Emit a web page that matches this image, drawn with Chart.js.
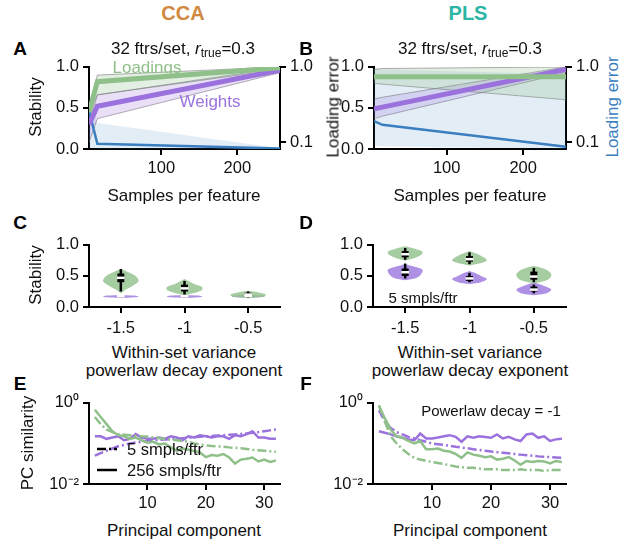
<!DOCTYPE html>
<html>
<head>
<meta charset="utf-8">
<script src="https://cdn.jsdelivr.net/npm/chart.js@4.4.1/dist/chart.umd.min.js"></script>
<style>
  html, body { margin: 0; padding: 0; background: #fff; }
  #fig { position: relative; width: 624px; height: 542px; overflow: hidden; font-family: "Liberation Sans", Arial, sans-serif; color: #111; }
  #fig canvas { position: absolute; }
  .t { position: absolute; white-space: nowrap; transform: translate(-50%, -50%); font-size: 17px; line-height: 1; }
  .rot { transform: translate(-50%, -50%) rotate(-90deg); }
  .big { font-weight: bold; font-size: 20px; }
  .let { font-weight: bold; font-size: 19px; color: #000; }
  sub { font-size: 12px; vertical-align: -3px; line-height: 0; }
</style>
</head>
<body>
<div id="fig"></div>
<script>
// ---- du lieu doc tu hinh ----
const samplesPerFeature = [5, 16, 256];

// A: CCA
const ccaLoadStab   = [0.45, 0.82, 0.99];
const ccaLoadStabHi = [0.52, 0.90, 1.00];
const ccaLoadStabLo = [0.30, 0.66, 0.97];
const ccaWgtStab    = [0.30, 0.52, 0.96];
const ccaWgtStabHi  = [0.45, 0.66, 0.99];
const ccaWgtStabLo  = [0.08, 0.37, 0.93];
const ccaLoadErr    = [0.26, 0.095, 0.082];
const ccaLoadErrHi  = [0.45, 0.18, 0.083];
const ccaLoadErrLo  = [0.085, 0.081, 0.081];

// B: PLS
const plsLoadStab   = [0.88, 0.88, 0.88];
const plsLoadStabHi = [0.97, 0.98, 1.00];
const plsLoadStabLo = [0.80, 0.79, 0.60];
const plsWgtStab    = [0.49, 0.51, 0.97];
const plsWgtStabHi  = [0.61, 0.63, 1.00];
const plsWgtStabLo  = [0.37, 0.40, 0.93];
const plsLoadErr    = [0.19, 0.17, 0.087];
const plsLoadErrHi  = [0.95, 0.93, 0.80];
const plsLoadErrLo  = [0.09, 0.088, 0.081];

// C, D: violins
const decayExponents = ['-1.5', '-1', '-0.5'];
// [whisker lo, q1, median, q3, whisker hi]
const ccaLoadBox = [[0.25, 0.40, 0.47, 0.54, 0.61], [0.20, 0.25, 0.30, 0.36, 0.42], [0.15, 0.16, 0.20, 0.23, 0.25]];
const ccaWgtBox  = [[0.16, 0.165, 0.175, 0.185, 0.19], [0.16, 0.165, 0.175, 0.185, 0.19], [0.16, 0.165, 0.175, 0.185, 0.19]];
const plsLoadBox = [[0.76, 0.80, 0.85, 0.90, 0.95], [0.69, 0.73, 0.77, 0.82, 0.88], [0.40, 0.44, 0.49, 0.57, 0.63]];
const plsWgtBox  = [[0.46, 0.50, 0.56, 0.62, 0.70], [0.40, 0.42, 0.46, 0.50, 0.55], [0.22, 0.25, 0.28, 0.33, 0.36]];
// violin outline: y knots and half widths
const ccaLoadVioY = [[0.22, 0.28, 0.35, 0.42, 0.50, 0.56, 0.61], [0.18, 0.22, 0.27, 0.32, 0.37, 0.42, 0.45], [0.14, 0.17, 0.20, 0.23, 0.26]];
const ccaLoadVioW = [[0, 0.08, 0.20, 0.28, 0.23, 0.12, 0], [0, 0.13, 0.27, 0.28, 0.15, 0.06, 0], [0, 0.25, 0.28, 0.18, 0]];
const ccaWgtVioY  = [[0.145, 0.155, 0.17, 0.185, 0.195], [0.145, 0.155, 0.17, 0.185, 0.195], [0.145, 0.16, 0.175, 0.19, 0.20]];
const ccaWgtVioW  = [[0, 0.22, 0.28, 0.22, 0], [0, 0.22, 0.28, 0.22, 0], [0, 0.22, 0.26, 0.17, 0]];
const plsLoadVioY = [[0.75, 0.79, 0.84, 0.89, 0.94, 0.98], [0.67, 0.70, 0.75, 0.80, 0.86, 0.90], [0.38, 0.43, 0.50, 0.56, 0.62, 0.66]];
const plsLoadVioW = [[0, 0.15, 0.25, 0.27, 0.15, 0], [0, 0.15, 0.27, 0.22, 0.10, 0], [0, 0.20, 0.27, 0.25, 0.15, 0]];
const plsWgtVioY  = [[0.43, 0.47, 0.53, 0.60, 0.65, 0.69], [0.37, 0.40, 0.45, 0.50, 0.55, 0.58], [0.19, 0.22, 0.28, 0.33, 0.37, 0.40]];
const plsWgtVioW  = [[0, 0.18, 0.25, 0.27, 0.15, 0], [0, 0.18, 0.27, 0.18, 0.08, 0], [0, 0.20, 0.27, 0.18, 0.08, 0]];

// E, F: PC similarity
const pcIndex = [1, 2, 3, 4, 5, 6, 7, 8, 9, 10, 11, 12, 13, 14, 15, 16, 17, 18, 19, 20, 21, 22, 23, 24, 25, 26, 27, 28, 29, 30, 31, 32];
const ccaLoad256 = [0.68, 0.45, 0.30, 0.20, 0.16, 0.15, 0.13, 0.14, 0.12, 0.105, 0.11, 0.095, 0.10, 0.08, 0.066, 0.075, 0.07, 0.065, 0.06, 0.046, 0.052, 0.05, 0.055, 0.045, 0.032, 0.04, 0.042, 0.045, 0.036, 0.04, 0.035, 0.038];
const ccaLoad5   = [0.45, 0.30, 0.22, 0.19, 0.17, 0.165, 0.16, 0.155, 0.15, 0.148, 0.14, 0.135, 0.13, 0.125, 0.12, 0.115, 0.11, 0.10, 0.095, 0.09, 0.087, 0.085, 0.083, 0.08, 0.078, 0.076, 0.073, 0.07, 0.068, 0.066, 0.064, 0.062];
const ccaWgt256  = [0.15, 0.15, 0.13, 0.14, 0.15, 0.12, 0.13, 0.17, 0.14, 0.13, 0.13, 0.14, 0.13, 0.15, 0.14, 0.12, 0.15, 0.14, 0.16, 0.15, 0.14, 0.15, 0.15, 0.13, 0.16, 0.15, 0.17, 0.20, 0.14, 0.14, 0.13, 0.13];
const ccaWgt5    = [0.05, 0.058, 0.066, 0.075, 0.085, 0.092, 0.10, 0.105, 0.11, 0.115, 0.118, 0.122, 0.125, 0.128, 0.13, 0.134, 0.138, 0.142, 0.146, 0.15, 0.153, 0.156, 0.16, 0.163, 0.167, 0.172, 0.177, 0.183, 0.19, 0.20, 0.21, 0.22];
const plsLoad256 = [0.85, 0.42, 0.22, 0.15, 0.138, 0.115, 0.10, 0.115, 0.072, 0.072, 0.075, 0.066, 0.063, 0.055, 0.044, 0.06, 0.053, 0.05, 0.046, 0.048, 0.04, 0.042, 0.046, 0.038, 0.03, 0.037, 0.035, 0.037, 0.036, 0.032, 0.037, 0.035];
const plsLoad5   = [0.87, 0.35, 0.15, 0.10, 0.072, 0.055, 0.044, 0.04, 0.037, 0.035, 0.033, 0.031, 0.029, 0.027, 0.026, 0.025, 0.025, 0.024, 0.023, 0.023, 0.023, 0.022, 0.022, 0.022, 0.023, 0.022, 0.022, 0.022, 0.021, 0.022, 0.022, 0.022];
const plsWgt256  = [0.20, 0.183, 0.167, 0.15, 0.138, 0.126, 0.12, 0.175, 0.133, 0.133, 0.14, 0.15, 0.16, 0.145, 0.11, 0.15, 0.138, 0.15, 0.145, 0.138, 0.167, 0.133, 0.145, 0.126, 0.115, 0.167, 0.175, 0.138, 0.15, 0.115, 0.126, 0.13];
const plsWgt5    = [0.66, 0.35, 0.24, 0.19, 0.167, 0.145, 0.133, 0.12, 0.11, 0.10, 0.096, 0.092, 0.088, 0.083, 0.079, 0.076, 0.072, 0.069, 0.066, 0.063, 0.061, 0.059, 0.057, 0.055, 0.053, 0.051, 0.05, 0.048, 0.047, 0.046, 0.045, 0.044];

// ---- mau ----
const GREEN = '#8fc08a', PURPLE = '#9b72dd', BLUE = '#3b7ebf';
const GREEN_BAND = 'rgba(143,192,138,0.25)', PURPLE_BAND = 'rgba(155,114,221,0.22)', BLUE_BAND = 'rgba(59,126,191,0.14)';
const VIO_GREEN = 'rgba(150,196,145,0.85)', VIO_PURPLE = 'rgba(160,125,225,0.85)';
const EDGE = 'rgba(110,110,110,0.55)';
const FONT = '"Liberation Sans", Arial, sans-serif';
const DASHDOT = [9, 3, 2, 3];

Chart.defaults.font.family = FONT;
Chart.defaults.color = '#000';
Chart.defaults.animation = false;

const fig = document.getElementById('fig');

function text(html, x, y, cls, style) {
    const d = document.createElement('div');
    d.className = 't ' + (cls || '');
    d.innerHTML = html;
    d.style.left = x + 'px';
    d.style.top = y + 'px';
    if (style) Object.assign(d.style, style);
    fig.appendChild(d);
}

function pts(xs, ys) {
    return xs.map((x, i) => ({ x: x, y: ys[i] }));
}

function axis(extra) {
    return Object.assign({
        grid: { drawOnChartArea: false, drawTicks: true, tickLength: 6, color: '#000', lineWidth: 2 },
        border: { display: true, color: '#000', width: 2 },
        ticks: { color: '#111', font: { size: 16.5 }, padding: 4, maxRotation: 0, autoSkip: false }
    }, extra);
}

function fixTicks(vals) {
    return s => { s.ticks = vals.map(v => ({ value: v })); };
}

// tao mot panel: area = [x0, y0, x1, y1] la vung ve, m = le xung quanh
function panel(area, m, datasets, scales) {
    const c = document.createElement('canvas');
    const w = area[2] - area[0] + m.l + m.r;
    const h = area[3] - area[1] + m.t + m.b;
    c.width = w; c.height = h;
    c.style.left = (area[0] - m.l) + 'px';
    c.style.top = (area[1] - m.t) + 'px';
    c.style.width = w + 'px'; c.style.height = h + 'px';
    fig.appendChild(c);
    scales.x.afterFit = s => { s.height = m.b; };
    scales.y.afterFit = s => { s.width = m.l; };
    if (scales.y2) scales.y2.afterFit = s => { s.width = m.r; };
    return new Chart(c.getContext('2d'), {
        type: 'line',
        data: { datasets: datasets },
        options: {
            responsive: false,
            devicePixelRatio: 1,
            layout: { padding: { top: m.t, right: scales.y2 ? 0 : m.r, left: 0, bottom: 0 } },
            plugins: { legend: { display: false }, tooltip: { enabled: false } },
            elements: { point: { radius: 0 }, line: { tension: 0 } },
            scales: scales
        }
    });
}

// ---- A, B ----
function stabilityDatasets(load, loadHi, loadLo, wgt, wgtHi, wgtLo, err, errHi, errLo) {
    const x = samplesPerFeature;
    return [
        { data: pts(x, errHi), yAxisID: 'y2', borderColor: EDGE, borderWidth: 0, backgroundColor: BLUE_BAND, fill: '+1', order: 9 },
        { data: pts(x, errLo), yAxisID: 'y2', borderColor: EDGE, borderWidth: 0, fill: false, order: 9 },
        { data: pts(x, wgtHi), yAxisID: 'y', borderColor: EDGE, borderWidth: 1, backgroundColor: PURPLE_BAND, fill: '+1', order: 8 },
        { data: pts(x, wgtLo), yAxisID: 'y', borderColor: EDGE, borderWidth: 1, fill: false, order: 8 },
        { data: pts(x, loadHi), yAxisID: 'y', borderColor: EDGE, borderWidth: 1, backgroundColor: GREEN_BAND, fill: '+1', order: 7 },
        { data: pts(x, loadLo), yAxisID: 'y', borderColor: EDGE, borderWidth: 1, fill: false, order: 7 },
        { data: pts(x, err), yAxisID: 'y2', borderColor: BLUE, borderWidth: 2.5, fill: false, order: 3 },
        { data: pts(x, wgt), yAxisID: 'y', borderColor: PURPLE, borderWidth: 5, fill: false, order: 2 },
        { data: pts(x, load), yAxisID: 'y', borderColor: GREEN, borderWidth: 5, fill: false, order: 1 }
    ];
}

function stabilityScales() {
    return {
        x: axis({ type: 'linear', min: 5, max: 256, afterBuildTicks: fixTicks([100, 200]) }),
        y: axis({ type: 'linear', min: 0, max: 1, afterBuildTicks: fixTicks([0, 0.5, 1]),
                  ticks: { color: '#111', font: { size: 16.5 }, padding: 4, callback: v => v.toFixed(1) } }),
        y2: axis({ type: 'logarithmic', position: 'right', min: 0.081, max: 1, afterBuildTicks: fixTicks([0.1, 1]),
                   ticks: { color: '#111', font: { size: 16.5 }, padding: 4, callback: v => v.toFixed(1) } })
    };
}

panel([89, 65, 280, 149], { l: 50, r: 34, t: 12, b: 40 },
    stabilityDatasets(ccaLoadStab, ccaLoadStabHi, ccaLoadStabLo, ccaWgtStab, ccaWgtStabHi, ccaWgtStabLo, ccaLoadErr, ccaLoadErrHi, ccaLoadErrLo),
    stabilityScales());
panel([374, 65, 566, 149], { l: 42, r: 34, t: 12, b: 40 },
    stabilityDatasets(plsLoadStab, plsLoadStabHi, plsLoadStabLo, plsWgtStab, plsWgtStabHi, plsWgtStabLo, plsLoadErr, plsLoadErrHi, plsLoadErrLo),
    stabilityScales());

// ---- C, D: violin ----
function violinDatasets(loadY, loadW, loadBox, wgtY, wgtW, wgtBox) {
    const out = [];
    const addViolin = (ys, ws, c, color, ord) => {
        const right = ys.map((y, i) => ({ x: c + ws[i], y: y }));
        const left = ys.map((y, i) => ({ x: c - ws[i], y: y })).reverse();
        out.push({ data: right.concat(left), borderWidth: 0, borderColor: color, backgroundColor: color,
                   fill: 'shape', tension: 0.35, order: ord });
    };
    const addBox = (b, c) => {
        out.push({ data: [{ x: c, y: b[0] }, { x: c, y: b[4] }], borderColor: '#000', borderWidth: 2.5, fill: false, order: 3 });
        out.push({ data: [{ x: c, y: b[1] }, { x: c, y: b[3] }], borderColor: '#000', borderWidth: 7, borderCapStyle: 'butt', fill: false, order: 2 });
        out.push({ data: [{ x: c - 0.06, y: b[2] }, { x: c + 0.06, y: b[2] }], borderColor: '#fff', borderWidth: 2.5, fill: false, order: 1 });
    };
    // xanh la nam tren tim
    decayExponents.forEach((_, i) => {
        addViolin(wgtY[i], wgtW[i], i, VIO_PURPLE, 6);
        addViolin(loadY[i], loadW[i], i, VIO_GREEN, 5);
    });
    decayExponents.forEach((_, i) => {
        addBox(wgtBox[i], i);
        addBox(loadBox[i], i);
    });
    return out;
}

function violinScales() {
    return {
        x: axis({ type: 'linear', min: -0.5, max: 2.5, afterBuildTicks: fixTicks([0, 1, 2]),
                  ticks: { color: '#111', font: { size: 16.5 }, padding: 6, callback: v => decayExponents[v] } }),
        y: axis({ type: 'linear', min: 0, max: 1, afterBuildTicks: fixTicks([0, 0.5, 1]),
                  ticks: { color: '#111', font: { size: 16.5 }, padding: 4, callback: v => v.toFixed(1) } })
    };
}

panel([89, 243, 280, 307], { l: 50, r: 20, t: 12, b: 35 },
    violinDatasets(ccaLoadVioY, ccaLoadVioW, ccaLoadBox, ccaWgtVioY, ccaWgtVioW, ccaWgtBox), violinScales());
panel([373, 243, 566, 307], { l: 50, r: 20, t: 12, b: 35 },
    violinDatasets(plsLoadVioY, plsLoadVioW, plsLoadBox, plsWgtVioY, plsWgtVioW, plsWgtBox), violinScales());

// ---- E, F: PC similarity ----
function pcDatasets(load256, load5, wgt256, wgt5) {
    return [
        { data: pts(pcIndex, wgt256), borderColor: PURPLE, borderWidth: 2.5, fill: false, order: 4 },
        { data: pts(pcIndex, wgt5), borderColor: PURPLE, borderWidth: 2.5, borderDash: DASHDOT, fill: false, order: 3 },
        { data: pts(pcIndex, load256), borderColor: GREEN, borderWidth: 2.5, fill: false, order: 2 },
        { data: pts(pcIndex, load5), borderColor: GREEN, borderWidth: 2.5, borderDash: DASHDOT, fill: false, order: 1 }
    ];
}

function pcScales() {
    return {
        x: axis({ type: 'linear', min: 0, max: 32.7, afterBuildTicks: fixTicks([10, 20, 30]) }),
        y: axis({ type: 'logarithmic', min: 0.01, max: 1, afterBuildTicks: fixTicks([0.01, 1]),
                  ticks: { color: '#111', font: { size: 16.5 }, padding: 4, callback: v => v === 1 ? '10\u2070' : '10\u207B\u00B2' } })
    };
}

panel([89, 401, 280, 484], { l: 55, r: 20, t: 12, b: 36 }, pcDatasets(ccaLoad256, ccaLoad5, ccaWgt256, ccaWgt5), pcScales());
panel([373, 401, 566, 484], { l: 55, r: 20, t: 12, b: 36 }, pcDatasets(plsLoad256, plsLoad5, plsWgt256, plsWgt5), pcScales());

// ---- chu ----
text('CCA', 183, 13, 'big', { color: '#d0893f' });
text('PLS', 468, 13, 'big', { color: '#2bb5a4' });
text('A', 20, 48, 'let'); text('B', 306, 48, 'let');
text('C', 20, 222, 'let'); text('D', 306, 222, 'let');
text('E', 20, 383, 'let'); text('F', 306, 383, 'let');

text('32 ftrs/set, <i>r</i><sub>true</sub>=0.3', 183, 48);
text('32 ftrs/set, <i>r</i><sub>true</sub>=0.3', 470, 48);
text('Stability', 35, 107, 'rot');
text('Loading error', 333, 107, 'rot');
text('Loading error', 612, 107, 'rot', { color: BLUE });
text('Samples per feature', 184, 195);
text('Samples per feature', 470, 195);
text('Loadings', 147, 67, '', { color: GREEN });
text('Weights', 210, 101, '', { color: PURPLE });

text('Stability', 35, 275, 'rot');
text('Within-set variance', 184, 352); text('powerlaw decay exponent', 184, 370);
text('Within-set variance', 470, 352); text('powerlaw decay exponent', 470, 370);
text('5 smpls/ftr', 423, 297, '', { fontSize: '15px' });

text('PC similarity', 27, 443, 'rot');
text('Principal component', 184, 530);
text('Principal component', 470, 530);
text('Powerlaw decay = -1', 491, 410, '', { fontSize: '15px' });

// chu giai E
function legendRow(y, dash, label) {
    const ns = 'http://www.w3.org/2000/svg';
    const svg = document.createElementNS(ns, 'svg');
    svg.setAttribute('width', 20); svg.setAttribute('height', 6);
    svg.style.position = 'absolute'; svg.style.left = '97px'; svg.style.top = (y - 3) + 'px';
    const ln = document.createElementNS(ns, 'line');
    ln.setAttribute('x1', 0); ln.setAttribute('x2', 20); ln.setAttribute('y1', 3); ln.setAttribute('y2', 3);
    ln.setAttribute('stroke', '#000'); ln.setAttribute('stroke-width', 2.5);
    if (dash) ln.setAttribute('stroke-dasharray', dash);
    svg.appendChild(ln);
    fig.appendChild(svg);
    const d = document.createElement('div');
    d.className = 't'; d.innerHTML = label; d.style.fontSize = '16.5px';
    d.style.left = '127px'; d.style.top = y + 'px'; d.style.transform = 'translateY(-50%)';
    fig.appendChild(d);
}
legendRow(449, '9 3 2 3', '5 smpls/ftr');
legendRow(470, null, '256 smpls/ftr');
</script>
</body>
</html>
